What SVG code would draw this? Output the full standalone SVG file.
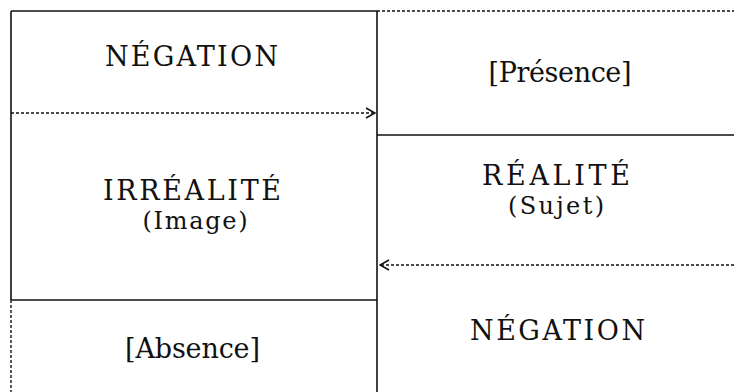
<svg xmlns="http://www.w3.org/2000/svg" width="734" height="392" viewBox="0 0 734 392">
<defs>
<style>
.bg{fill:#fff}
.solid{stroke:#111;stroke-width:1.6;fill:none}
.dot{stroke:#111;stroke-width:1.4;fill:none;stroke-dasharray:3 2}
.t{font-family:"DejaVu Serif","Liberation Serif",serif;font-size:27px;fill:#111;text-anchor:middle}
.s{font-family:"DejaVu Serif","Liberation Serif",serif;font-size:24px;fill:#111;text-anchor:middle}
</style>
<marker id="ah" viewBox="0 0 12 12" refX="11" refY="6" markerWidth="12" markerHeight="12" markerUnits="userSpaceOnUse" orient="auto-start-reverse">
<path d="M2,1 L11,6 L2,11" fill="none" stroke="#111" stroke-width="1.6"/>
</marker>
</defs>
<rect class="bg" x="0" y="0" width="734" height="392"/>
<g id="frame">
<line class="solid" x1="11" y1="11" x2="377" y2="11"/>
<line class="dot" x1="377" y1="11" x2="734" y2="11"/>
<line class="solid" x1="11" y1="11" x2="11" y2="300"/>
<line class="dot" x1="11" y1="300" x2="11" y2="392"/>
<line class="solid" x1="377" y1="11" x2="377" y2="392"/>
<line class="solid" x1="377" y1="135" x2="734" y2="135"/>
<line class="solid" x1="11" y1="300" x2="377" y2="300"/>
</g>
<g id="neg-left">
<text class="t" x="191.5" y="66" textLength="173" lengthAdjust="spacing">NÉGATION</text>
</g>
<g id="presence">
<text class="t" x="560" y="82" textLength="143" lengthAdjust="spacing">[Présence]</text>
</g>
<g id="irrealite">
<text class="t" x="192" y="200" textLength="178" lengthAdjust="spacing">IRRÉALITÉ</text>
<text class="s" x="195" y="229" textLength="105" lengthAdjust="spacing">(Image)</text>
</g>
<g id="realite">
<text class="t" x="556" y="185" textLength="148" lengthAdjust="spacing">RÉALITÉ</text>
<text class="s" x="556" y="214" textLength="96" lengthAdjust="spacing">(Sujet)</text>
</g>
<g id="absence">
<text class="t" x="192.5" y="358" textLength="135" lengthAdjust="spacing">[Absence]</text>
</g>
<g id="neg-right">
<text class="t" x="557.5" y="340" textLength="175" lengthAdjust="spacing">NÉGATION</text>
</g>
<g id="connectors">
<line class="dot" x1="11" y1="113" x2="375" y2="113" marker-end="url(#ah)"/>
<line class="dot" x1="734" y1="265" x2="380" y2="265" marker-end="url(#ah)"/>
</g>
</svg>
